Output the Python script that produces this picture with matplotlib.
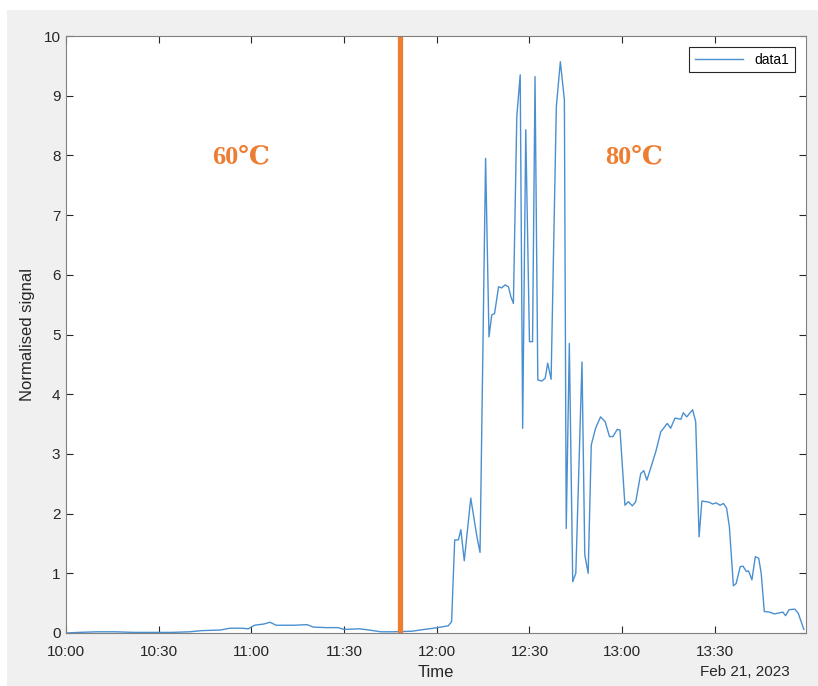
import matplotlib
matplotlib.use('Agg')

import matplotlib.pyplot as plt
import matplotlib.dates as mdates
from matplotlib.patches import Rectangle
from datetime import datetime, timedelta

# minutes after 10:00 on Feb 21, 2023, and the normalised signal
minutes = [0, 4, 10, 16, 22, 28, 34, 40, 44, 50, 53, 57, 59, 61, 64, 66, 68, 74, 78,
           80, 84, 88, 90, 95, 98, 102, 106, 112, 116, 119, 123.7, 124.8, 125.8, 127,
           127.8, 128.9, 131, 133, 134, 135.8, 136.9, 137.8, 138.7, 140, 141, 142.1,
           143.2, 144, 144.8, 145.9, 147, 147.8, 148.8, 150, 151, 151.8, 152.7, 154,
           155.1, 155.9, 157, 158.7, 160, 161.3, 161.9, 162.9, 164, 165, 167, 167.9,
           169, 170, 171.4, 173, 174.5, 175.9, 177, 178.4, 179.3, 180.9, 182, 183.3,
           184.4, 186, 187, 188, 190.9, 192.5, 194.6, 195.7, 197.1, 199, 199.8, 200.9,
           202.8, 203.8, 204.9, 205.8, 207.1, 208.2, 209.3, 210.4, 211.7, 212.8, 213.8,
           214.7, 216, 216.9, 218.2, 219.1, 220.2, 220.9, 222, 223.1, 224.2, 225, 226,
           227.7, 229.3, 232, 232.9, 234, 235.9, 237, 238.8]
signal = [0.0, 0.01, 0.02, 0.02, 0.01, 0.01, 0.01, 0.02, 0.04, 0.05, 0.08, 0.08, 0.07,
          0.13, 0.15, 0.18, 0.13, 0.13, 0.14, 0.10, 0.09, 0.09, 0.06, 0.07, 0.05, 0.02,
          0.02, 0.03, 0.06, 0.08, 0.12, 0.19, 1.56, 1.56, 1.73, 1.21, 2.26, 1.61, 1.35,
          7.95, 4.96, 5.33, 5.35, 5.8, 5.78, 5.83, 5.8, 5.63, 5.52, 8.65, 9.35, 3.43,
          8.43, 4.88, 4.88, 9.32, 4.24, 4.22, 4.27, 4.52, 4.25, 8.82, 9.57, 8.93, 1.75,
          4.85, 0.86, 1.0, 4.54, 1.31, 1.0, 3.15, 3.43, 3.62, 3.54, 3.29, 3.29, 3.41,
          3.4, 2.14, 2.2, 2.13, 2.2, 2.67, 2.72, 2.56, 3.04, 3.37, 3.51, 3.43, 3.6, 3.58,
          3.69, 3.62, 3.74, 3.54, 1.61, 2.21, 2.2, 2.19, 2.16, 2.18, 2.14, 2.17, 2.09,
          1.78, 0.79, 0.83, 1.11, 1.12, 1.03, 1.04, 0.89, 1.28, 1.25, 1.0, 0.36, 0.35,
          0.32, 0.35, 0.29, 0.39, 0.4, 0.33, 0.06]

start = datetime(2023, 2, 21, 10, 0)
switch_min = 108  # 60 -> 80 degC change
labels = ['60\u2103', '80\u2103']
label_min = [56.5, 184]
label_y = 7.97

times = [start + timedelta(minutes=m) for m in minutes]

plt.rcParams['font.family'] = ['Liberation Sans', 'DejaVu Sans']
dark = '#262626'

fig = plt.figure(figsize=(8.18, 6.86), dpi=100, facecolor='white')
# grey MATLAB figure panel
fig.patches.append(Rectangle((7 / 818, 0), 1, 1 - 10 / 686, transform=fig.transFigure,
                             facecolor='#f0f0f0', edgecolor='none', zorder=-1))

ax = fig.add_axes([66 / 818, 53 / 686, 740 / 818, 597 / 686])
ax.plot(times, signal, color='#4a90d0', linewidth=1.0, label='data1')
ax.axvline(start + timedelta(minutes=switch_min), color='#ED7D31', linewidth=3.8)

for txt, m in zip(labels, label_min):
    ax.text(start + timedelta(minutes=m), label_y, txt, color='#ED7D31',
            family=['Liberation Serif', 'DejaVu Serif', 'DejaVu Sans'],
            fontweight='bold', fontsize=19, ha='center', va='center')

ax.set_xlim(start, start + timedelta(minutes=239.5))
ax.set_ylim(0, 10)
ax.set_yticks(range(0, 11))
ax.xaxis.set_major_locator(mdates.MinuteLocator(byminute=[0, 30]))
ax.xaxis.set_major_formatter(mdates.DateFormatter('%H:%M'))

ax.tick_params(direction='in', top=True, right=True, length=5, width=0.8,
               colors=dark, labelsize=11, pad=4)
ax.tick_params(axis='x', pad=9)
for s in ax.spines.values():
    s.set_color('#808080')
    s.set_linewidth(0.8)

ax.set_xlabel('Time', fontsize=12, color=dark, labelpad=4)
ax.set_ylabel('Normalised signal', fontsize=12, color=dark, labelpad=6)
ax.text(1.0 - 16 / 740, -0.065, 'Feb 21, 2023', transform=ax.transAxes,
        ha='right', va='center', fontsize=11, color=dark)

leg = ax.legend(loc='upper right', fontsize=10, fancybox=False, framealpha=1,
                edgecolor=dark, borderaxespad=0.8, handlelength=3.5)
leg.get_frame().set_linewidth(0.8)

plt.savefig('out.png', dpi=100, facecolor=fig.get_facecolor())
plt.close(fig)
